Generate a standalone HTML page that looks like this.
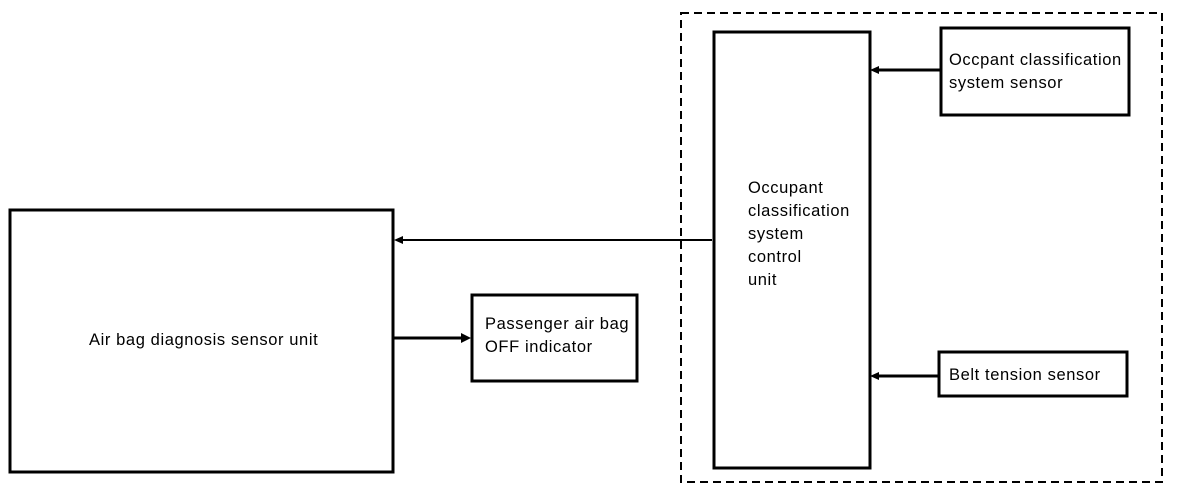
<!DOCTYPE html>
<html><head><meta charset="utf-8"><style>
html,body{margin:0;padding:0;background:#fff;}
body{width:1184px;height:496px;position:relative;overflow:hidden;font-family:"Liberation Sans",sans-serif;font-size:16.5px;letter-spacing:0.6px;color:#000;}
.t{position:absolute;line-height:23px;white-space:nowrap;}
</style></head><body>
<svg width="1184" height="496" style="position:absolute;left:0;top:0">
<g fill="none" stroke="#000">
<rect x="681" y="13" width="481" height="469" stroke-width="2" stroke-dasharray="8,5"/>
<rect x="10" y="210" width="383" height="262" stroke-width="3"/>
<rect x="472" y="295" width="165" height="86" stroke-width="3"/>
<rect x="714" y="32" width="156" height="436" stroke-width="3"/>
<rect x="941" y="28" width="188" height="87" stroke-width="3"/>
<rect x="939" y="352" width="188" height="44" stroke-width="3"/>
<line x1="712" y1="240" x2="400" y2="240" stroke-width="2"/>
<line x1="394" y1="338" x2="462" y2="338" stroke-width="3"/>
<line x1="940" y1="70" x2="876" y2="70" stroke-width="3"/>
<line x1="938" y1="376" x2="876" y2="376" stroke-width="3"/>
</g>
<g fill="#000">
<polygon points="394,240 403,236 403,244"/>
<polygon points="471,338 461,333 461,343"/>
<polygon points="870,70 879,66 879,74"/>
<polygon points="870,376 879,372 879,380"/>
</g>
</svg>
<div class="t" style="left:89px;top:329px">Air bag diagnosis sensor unit</div>
<div class="t" style="left:485px;top:313px">Passenger air bag<br>OFF indicator</div>
<div class="t" style="left:748px;top:177px">Occupant<br>classification<br>system<br>control<br>unit</div>
<div class="t" style="left:949px;top:49px">Occpant classification<br>system sensor</div>
<div class="t" style="left:949px;top:364px">Belt tension sensor</div>
</body></html>
